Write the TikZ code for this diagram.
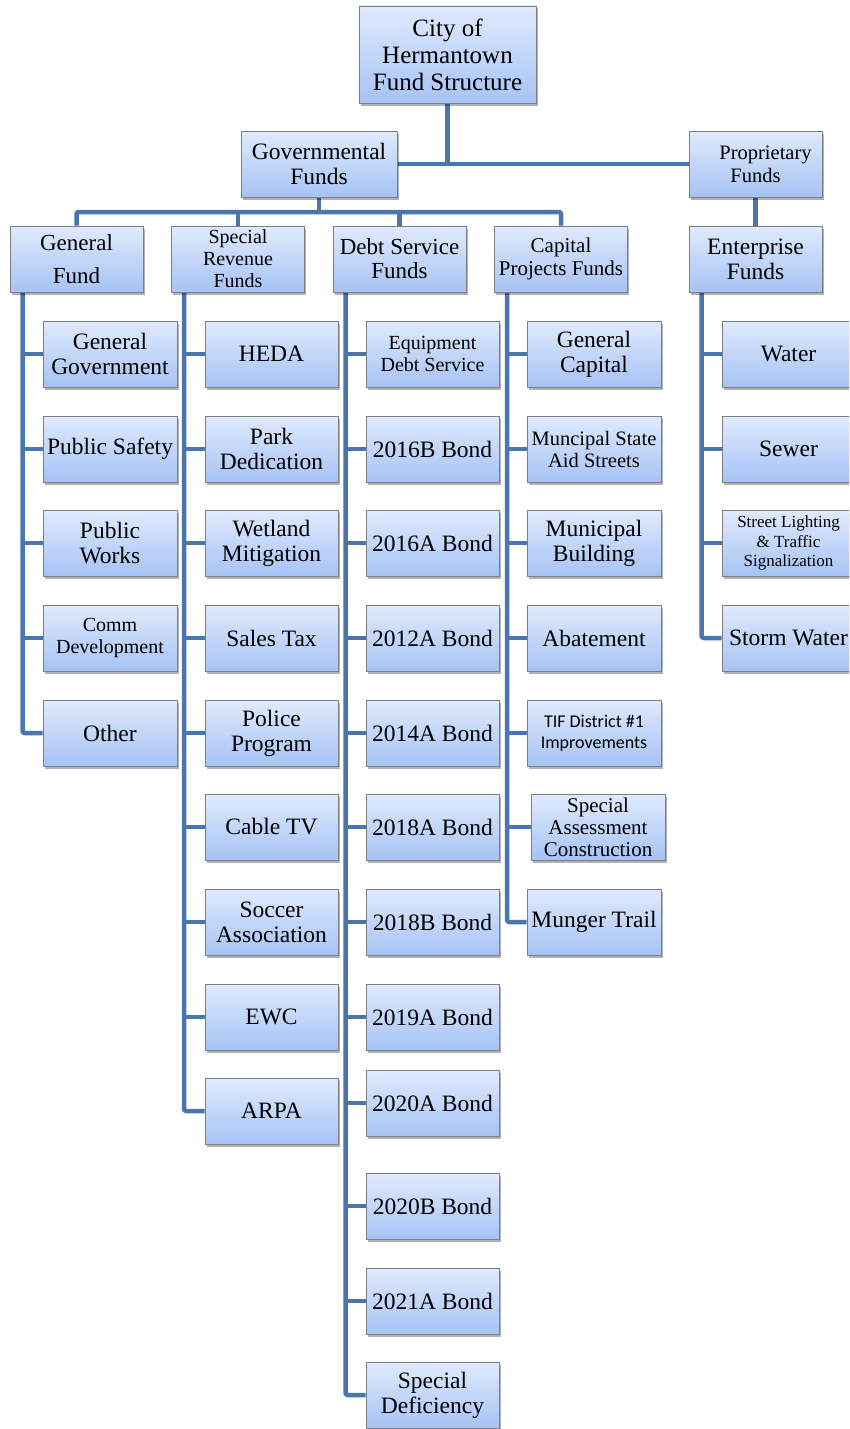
\documentclass[tikz,border=0pt]{standalone}
\usepackage{fontspec}
\setmainfont{Liberation Serif}
\newfontfamily\carlito{Carlito}
\usetikzlibrary{shadows,backgrounds}
\definecolor{conncol}{HTML}{4A76AD}
\definecolor{boxtop}{HTML}{E0EAFD}
\definecolor{boxbot}{HTML}{A6C3F5}
\definecolor{boxline}{HTML}{7F7F7F}
\tikzset{
  fbox/.style={draw=boxline, line width=0.9pt, top color=boxtop, bottom color=boxbot,
    minimum width=133pt, minimum height=66pt, inner sep=0pt, align=center,
    drop shadow={shadow xshift=1.5pt, shadow yshift=-2.5pt, fill=black, opacity=0.3},
    font=\fontsize{23.5}{25}\selectfont},
  fsmall/.style={font=\fontsize{20.5}{23}\selectfont},
  conn/.style={draw=conncol, line width=4.5pt, line cap=butt, line join=round, rounded corners=2pt},
}
\begin{document}
\begin{tikzpicture}[x=1pt,y=-1pt]
\useasboundingbox (0,0) rectangle (849,1429);
\clip (0,0) rectangle (849,1429);
% top levels
\node[fbox, minimum width=177pt, minimum height=97pt, font=\fontsize{25}{27}\selectfont] (city) at (447.5,54.5) {City of\\Hermantown\\Fund Structure};
\node[fbox, minimum width=156pt] (gov) at (319,164) {Governmental\\Funds};
\node[fbox, fsmall] (prop) at (755.5,164) {\raisebox{-2pt}{\hspace*{20pt}Proprietary}\\\raisebox{-2pt}{Funds}};
% headers
\node[fbox, font=\fontsize{23}{33}\selectfont] (gf) at (76.5,259) {General\\Fund};
\node[fbox, font=\fontsize{20}{22}\selectfont] (sr) at (238,259) {Special\\Revenue\\Funds};
\node[fbox, font=\fontsize{23}{24}\selectfont] (ds) at (399.5,259) {Debt Service\\Funds};
\node[fbox, font=\fontsize{21}{23}\selectfont] (cp) at (561,259) {Capital\\Projects Funds};
\node[fbox] (ent) at (755.5,259) {Enterprise\\Funds};
% column 1
\node[fbox, minimum width=134pt] (a1) at (110,354) {General\\Government};
\node[fbox, minimum width=134pt] (a2) at (110,449) {Public Safety};
\node[fbox, minimum width=134pt] (a3) at (110,543) {Public\\Works};
\node[fbox, minimum width=134pt, font=\fontsize{20}{22}\selectfont] (a4) at (110,638) {Comm\\Development};
\node[fbox, minimum width=134pt] (a5) at (110,733) {Other};
% column 2
\node[fbox] (b1) at (271.5,354) {HEDA};
\node[fbox] (b2) at (271.5,449) {Park\\Dedication};
\node[fbox] (b3) at (271.5,543) {Wetland\\Mitigation};
\node[fbox] (b4) at (271.5,638) {Sales Tax};
\node[fbox] (b5) at (271.5,733) {Police\\Program};
\node[fbox] (b6) at (271.5,827) {Cable TV};
\node[fbox] (b7) at (271.5,922) {Soccer\\Association};
\node[fbox] (b8) at (271.5,1017) {EWC};
\node[fbox] (b9) at (271.5,1111) {ARPA};
% column 3
\node[fbox, font=\fontsize{20}{22}\selectfont] (c1) at (432.5,354) {Equipment\\Debt Service};
\node[fbox] (c2) at (432.5,449) {2016B Bond};
\node[fbox] (c3) at (432.5,543) {2016A Bond};
\node[fbox] (c4) at (432.5,638) {2012A Bond};
\node[fbox] (c5) at (432.5,733) {2014A Bond};
\node[fbox] (c6) at (432.5,827) {2018A Bond};
\node[fbox] (c7) at (432.5,922) {2018B Bond};
\node[fbox] (c8) at (432.5,1017) {2019A Bond};
\node[fbox] (c9) at (432.5,1103) {2020A Bond};
\node[fbox] (c10) at (432.5,1206) {2020B Bond};
\node[fbox] (c11) at (432.5,1301) {2021A Bond};
\node[fbox] (c12) at (432.5,1395) {Special\\Deficiency};
% column 4
\node[fbox, minimum width=134pt] (d1) at (594,354) {General\\Capital};
\node[fbox, minimum width=134pt, font=\fontsize{20.5}{22}\selectfont] (d2) at (594,449) {Muncipal State\\Aid Streets};
\node[fbox, minimum width=134pt] (d3) at (594,543) {Municipal\\Building};
\node[fbox, minimum width=134pt] (d4) at (594,638) {Abatement};
\node[fbox, minimum width=134pt, font=\carlito\fontsize{18}{21}\selectfont] (d5) at (594,733) {TIF District \#1\\Improvements};
\node[fbox, minimum width=134pt, font=\fontsize{21}{22}\selectfont] (d6) at (598,827) {Special\\Assessment\\Construction};
\node[fbox, minimum width=134pt] (d7) at (594,922) {Munger Trail};
% column 5
\node[fbox] (e1) at (788.5,354) {Water};
\node[fbox] (e2) at (788.5,449) {Sewer};
\node[fbox, font=\fontsize{17}{19.5}\selectfont] (e3) at (788.5,543) {Street Lighting\\\& Traffic\\Signalization};
\node[fbox] (e4) at (788.5,638) {Storm Water};
% spine coordinates
\coordinate (s1) at ([xshift=13pt]gf.south west);
\coordinate (s2) at ([xshift=13pt]sr.south west);
\coordinate (s3) at ([xshift=13pt]ds.south west);
\coordinate (s4) at ([xshift=13pt]cp.south west);
\coordinate (s5) at ([xshift=13pt]ent.south west);
\coordinate (bus) at (319,212);
\begin{scope}[on background layer]
\draw[conn] (city.south) -- (city.south |- gov.east);
\draw[conn] (gov.east) -- (prop.west);
\draw[conn] (gov.south) -- (bus);
\draw[conn] (gf.north) |- (bus) -| (cp.north);
\draw[conn] (sr.north) -- (sr.north |- bus);
\draw[conn] (ds.north) -- (ds.north |- bus);
\draw[conn] (prop.south) -- (ent.north);
% column 1
\draw[conn] (s1) |- (a5.west);
\foreach \n in {a1,a2,a3,a4} \draw[conn] (\n.west) -- (\n.west -| s1);
% column 2
\draw[conn] (s2) |- (b9.west);
\foreach \n in {b1,b2,b3,b4,b5,b6,b7,b8} \draw[conn] (\n.west) -- (\n.west -| s2);
% column 3
\draw[conn] (s3) |- (c12.west);
\foreach \n in {c1,c2,c3,c4,c5,c6,c7,c8,c9,c10,c11} \draw[conn] (\n.west) -- (\n.west -| s3);
% column 4
\draw[conn] (s4) |- (d7.west);
\foreach \n in {d1,d2,d3,d4,d5,d6} \draw[conn] (\n.west) -- (\n.west -| s4);
% column 5
\draw[conn] (s5) |- (e4.west);
\foreach \n in {e1,e2,e3} \draw[conn] (\n.west) -- (\n.west -| s5);
\end{scope}
\end{tikzpicture}
\end{document}
